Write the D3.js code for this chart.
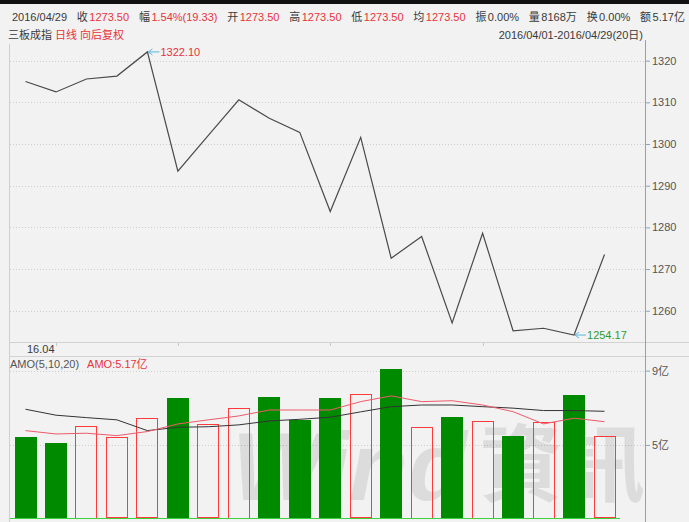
<!DOCTYPE html>
<html>
<head>
<meta charset="utf-8">
<script src="https://cdn.jsdelivr.net/npm/d3@7"></script>
<style>
  body { margin: 0; background: #f2f2f2; }
  svg { display: block; font-family: "Liberation Sans", "Noto Sans CJK SC", sans-serif; font-size: 11px; }
</style>
</head>
<body>
<svg id="chart" width="689" height="522"></svg>
<script>
'use strict';

// 三板成指, daily, April 2016
const dates = ['2016-04-01', '2016-04-05', '2016-04-06', '2016-04-07', '2016-04-08',
  '2016-04-11', '2016-04-12', '2016-04-13', '2016-04-14', '2016-04-15',
  '2016-04-18', '2016-04-19', '2016-04-20', '2016-04-21', '2016-04-22',
  '2016-04-25', '2016-04-26', '2016-04-27', '2016-04-28', '2016-04-29'];
const prevClose = 1317.0;
const close = [1315.0, 1312.5, 1315.6, 1316.3, 1322.10, 1293.5, 1302.1, 1310.6, 1306.2, 1302.8,
  1283.8, 1301.6, 1272.6, 1277.8, 1257.1, 1278.6, 1255.2, 1255.8, 1254.17, 1273.50];
// 成交额 (亿)
const amount = [5.45, 5.12, 6.04, 5.43, 6.45, 7.51, 6.11, 7.01, 7.57, 6.35,
  7.51, 7.75, 9.07, 5.99, 6.49, 6.31, 5.48, 6.25, 7.69, 5.47];
const amo5 = [5.77, 5.59, 5.63, 5.50, 5.72, 6.13, 6.35, 6.56, 6.88, 6.88,
  6.88, 7.33, 7.64, 7.33, 7.38, 7.15, 6.79, 6.13, 6.44, 6.25];
const amo10 = [6.92, 6.60, 6.47, 6.35, 5.77, 5.95, 5.98, 6.08, 6.29, 6.38,
  6.49, 6.78, 7.06, 7.15, 7.15, 7.06, 6.98, 6.85, 6.85, 6.81];

const priceTicks = [1260, 1270, 1280, 1290, 1300, 1310, 1320];
const amoTicks = [5, 9];

const headerDate = '2016/04/29';
const headerLabels = ['收', '幅', '开', '高', '低', '均', '振', '量', '换', '额'];
const headerValues = ['1273.50', '1.54%(19.33)', '1273.50', '1273.50', '1273.50', '1273.50',
  '0.00%', '8168万', '0.00%', '5.17亿'];
const headerRedCount = 6;

const RED = '#e8323c';
const GREEN_TXT = '#2f9a2f';
const DARK = '#3a3a3a';
const AXIS = '#8aa4b6';

const svg = d3.select('#chart');
const W = 689, H = 522;
const AX = 645;          // right axis x
const P_TOP = 44, P_BOT = 342, D_BOT = 356, V_BOT = 518.3;

svg.append('rect').attr('width', W).attr('height', H).attr('fill', '#f2f2f2');
svg.append('rect').attr('width', W).attr('height', 4).attr('fill', '#111');

// ---- header line 1 ----
const hdr = svg.append('g').attr('class', 'header');
const pieces = [{ t: headerDate, c: DARK, gap: 0 }];
headerLabels.forEach((lab, i) => {
  pieces.push({ t: lab, c: DARK, gap: 1 });
  pieces.push({ t: headerValues[i], c: i < headerRedCount ? RED : DARK, gap: 0.15 });
});
const nodes = pieces.map(p => hdr.append('text').attr('y', 21).attr('fill', p.c).text(p.t));
const widths = nodes.map(n => n.node().getComputedTextLength());
const x0 = 12, x1 = 685;
const natural = d3.sum(widths);
const gapUnits = d3.sum(pieces, p => p.gap);
const unit = (x1 - x0 - natural) / gapUnits;
let cx = x0;
nodes.forEach((n, i) => {
  cx += pieces[i].gap * unit;
  n.attr('x', cx);
  cx += widths[i];
});

// ---- header line 2 ----
const l2 = svg.append('text').attr('x', 8).attr('y', 39);
l2.append('tspan').attr('fill', DARK).text('三板成指 ');
l2.append('tspan').attr('fill', RED).text('日线 向后复权');
svg.append('text').attr('x', 643).attr('y', 39).attr('text-anchor', 'end')
  .attr('fill', DARK).text('2016/04/01-2016/04/29(20日)');

// ---- frame ----
svg.append('line').attr('x1', 9.5).attr('x2', 9.5).attr('y1', P_TOP).attr('y2', H)
  .attr('stroke', '#cfcfcf');
[P_BOT + 0.5, D_BOT + 0.5].forEach(y => {
  svg.append('line').attr('x1', 9).attr('x2', W).attr('y1', y).attr('y2', y)
    .attr('stroke', '#d2d2d2');
});
svg.append('line').attr('x1', AX + 0.5).attr('x2', AX + 0.5).attr('y1', 40).attr('y2', H)
  .attr('stroke', AXIS);

// ---- scales ----
const x = d3.scaleLinear().domain([0, close.length - 1]).range([25.5, 604.5]);
const yPrice = d3.scaleLinear().domain([1252.5, 1324]).range([P_BOT, P_TOP]);
const yAmo = d3.scaleLinear().domain([1.05, 9.9]).range([V_BOT, 353.9]);

// ---- price panel ----
const grid = svg.append('g').attr('class', 'grid');
priceTicks.forEach(v => {
  grid.append('line').attr('x1', 10).attr('x2', AX).attr('y1', Math.round(yPrice(v)) + 0.5)
    .attr('y2', Math.round(yPrice(v)) + 0.5)
    .attr('stroke', '#cdcdcd').attr('stroke-dasharray', '1,2');
});

svg.append('g')
  .attr('transform', `translate(${AX},0)`)
  .call(d3.axisRight(yPrice).tickValues(priceTicks).tickSize(5).tickPadding(2).tickFormat(d3.format('d')))
  .call(g => g.select('.domain').remove())
  .call(g => g.selectAll('line').attr('stroke', AXIS))
  .call(g => g.selectAll('text').attr('fill', '#555').style('font-size', '11px')
    .style('font-family', '"Liberation Sans","Noto Sans CJK SC",sans-serif'));

svg.append('path')
  .datum(close)
  .attr('fill', 'none')
  .attr('stroke', '#4a4a4a')
  .attr('stroke-width', 1.2)
  .attr('d', d3.line().x((d, i) => x(i)).y(d => yPrice(d)));

function marker(i, color) {
  const px = x(i), py = yPrice(close[i]);
  const g = svg.append('g');
  g.append('line').attr('x1', px + 1).attr('x2', px + 12).attr('y1', py).attr('y2', py)
    .attr('stroke', '#5ab6dc').attr('stroke-width', 1);
  g.append('path').attr('d', `M${px + 5},${py - 3}L${px + 1},${py}L${px + 5},${py + 3}`)
    .attr('fill', 'none').attr('stroke', '#5ab6dc');
  g.append('text').attr('x', px + 13).attr('y', py + 4).attr('fill', color)
    .text(d3.format('.2f')(close[i]));
}
marker(d3.maxIndex(close), RED);
marker(d3.minIndex(close), GREEN_TXT);

// ---- date row ----
const parsed = dates.map(d => new Date(d + 'T00:00:00'));
svg.append('text').attr('x', 27).attr('y', 353).attr('fill', DARK)
  .text(d3.timeFormat('%y.%m')(parsed[0]));
parsed.forEach((d, i) => {
  if (i > 0 && d3.timeWeek.floor(d) > d3.timeWeek.floor(parsed[i - 1])) {
    svg.append('line').attr('x1', Math.round(x(i)) + 0.5).attr('x2', Math.round(x(i)) + 0.5)
      .attr('y1', P_BOT + 1).attr('y2', P_BOT + 4).attr('stroke', '#c8c8c8');
  }
});

// ---- amount panel ----
const t2 = svg.append('text').attr('x', 10).attr('y', 368);
t2.append('tspan').attr('fill', '#555').text('AMO(5,10,20)');
t2.append('tspan').attr('fill', RED).attr('dx', 8).text('AMO:5.17亿');

amoTicks.forEach(v => {
  grid.append('line').attr('x1', 10).attr('x2', AX).attr('y1', Math.round(yAmo(v)) + 0.5)
    .attr('y2', Math.round(yAmo(v)) + 0.5)
    .attr('stroke', '#cdcdcd').attr('stroke-dasharray', '1,2');
});
svg.append('g')
  .attr('transform', `translate(${AX},0)`)
  .call(d3.axisRight(yAmo).tickValues(amoTicks).tickSize(5).tickPadding(2).tickFormat(d => d + '亿'))
  .call(g => g.select('.domain').remove())
  .call(g => g.selectAll('line').attr('stroke', AXIS))
  .call(g => g.selectAll('text').attr('fill', '#555').style('font-size', '11px')
    .style('font-family', '"Liberation Sans","Noto Sans CJK SC",sans-serif'));

// watermark
const wm = svg.append('g').attr('fill', '#000').attr('opacity', 0.085);
wm.append('text').attr('x', 232).attr('y', 500)
  .style('font-size', '96px').style('font-weight', 'bold').style('font-style', 'italic')
  .style('font-family', '"Liberation Sans",sans-serif')
  .attr('textLength', 235).attr('lengthAdjust', 'spacingAndGlyphs').text('Wind');
wm.append('text').attr('x', 480).attr('y', 495)
  .style('font-size', '84px').style('font-weight', 'bold')
  .style('font-family', '"Noto Sans CJK TC",sans-serif')
  .attr('textLength', 165).attr('lengthAdjust', 'spacingAndGlyphs').text('資訊');

const BW = 22;
const base = yAmo.range()[0];
amount.forEach((v, i) => {
  const up = close[i] >= (i === 0 ? prevClose : close[i - 1]);
  const top = yAmo(v);
  if (up) {
    svg.append('rect')
      .attr('x', Math.round(x(i) - BW / 2) + 0.5).attr('y', Math.round(top) + 0.5)
      .attr('width', BW - 1).attr('height', Math.round(base - top) - 1)
      .attr('fill', 'none').attr('stroke', '#ff3a3a').attr('stroke-width', 1);
  } else {
    svg.append('rect')
      .attr('x', Math.round(x(i) - BW / 2)).attr('y', Math.round(top))
      .attr('width', BW).attr('height', Math.round(base - top))
      .attr('fill', '#008a00');
  }
});

svg.append('line').attr('x1', 10).attr('x2', 620).attr('y1', Math.round(base) + 0.5)
  .attr('y2', Math.round(base) + 0.5).attr('stroke', '#3fd03f');

const maLine = d3.line().x((d, i) => x(i)).y(d => yAmo(d));
svg.append('path').datum(amo10).attr('fill', 'none').attr('stroke', '#333')
  .attr('stroke-width', 1).attr('d', maLine);
svg.append('path').datum(amo5).attr('fill', 'none').attr('stroke', '#ee5a6a')
  .attr('stroke-width', 1).attr('d', maLine);
</script>
</body>
</html>
